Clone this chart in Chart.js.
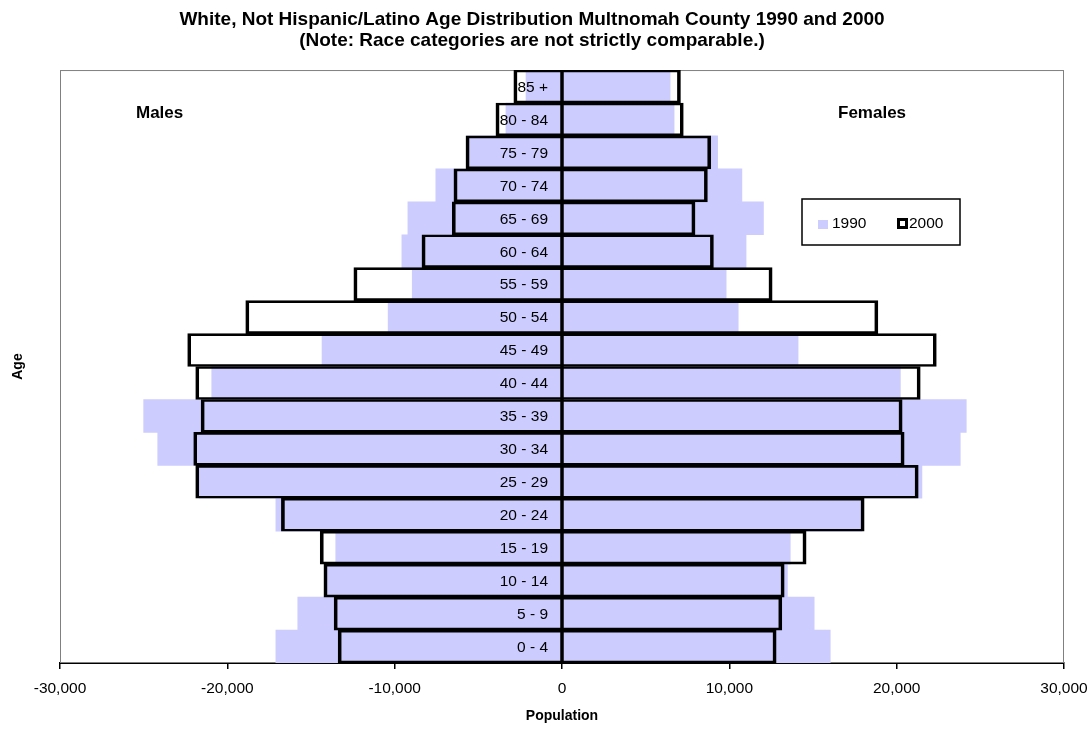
<!DOCTYPE html>
<html><head><meta charset="utf-8">
<script src="https://cdn.jsdelivr.net/npm/chart.js@4.4.0/dist/chart.umd.min.js"></script>
<style>html,body{margin:0;padding:0;background:#fff}canvas{display:block}</style>
</head><body>
<canvas id="c" width="1092" height="730"></canvas>
<script>
// Age groups, youngest first (drawn bottom to top)
const ageGroups = ['0 - 4','5 - 9','10 - 14','15 - 19','20 - 24','25 - 29','30 - 34','35 - 39','40 - 44','45 - 49','50 - 54','55 - 59','60 - 64','65 - 69','70 - 74','75 - 79','80 - 84','85 +'];
const males1990   = [17100,15790,14100,13520,17100,21690,24160,25000,20930,14340,10390,8950,9570,9210,7540,5700,3350,2150];
const females1990 = [16030,15070,13470,13640,17930,21510,23800,24160,20220,14110,10530,9810,11000,12040,10750,9300,6700,6460];
const males2000   = [13380,13620,14230,14450,16770,21890,22010,21570,21890,22370,18900,12440,8370,6560,6460,5740,3950,2880];
const females2000 = [12800,13140,13280,14590,18060,21290,20450,20330,21410,22370,18880,12560,9050,7950,8690,8890,7250,7080];
const tickValues = [-30000,-20000,-10000,0,10000,20000,30000];
const titleLines = ['White, Not Hispanic/Latino Age Distribution Multnomah County 1990 and 2000','(Note: Race categories are not strictly comparable.)'];
const seriesNames = ['1990','2000'];
const sideNames = ['Males','Females'];

const FONT = '"Liberation Sans", Arial, sans-serif';
Chart.defaults.font.family = FONT;
Chart.defaults.color = '#000';

const FILL = '#CCCCFF';

const deco = {
  id: 'deco',
  beforeDatasetsDraw(chart) {
    const {ctx, chartArea: a} = chart;
    ctx.save();
    ctx.strokeStyle = '#808080';
    ctx.lineWidth = 1;
    ctx.strokeRect(a.left + 0.5, a.top + 0.5, a.right - a.left - 1, a.bottom - a.top - 1);
    ctx.restore();
  },
  afterDatasetsDraw(chart) {
    const {ctx, chartArea: a, scales} = chart;
    const x0 = scales.x.getPixelForValue(0);
    ctx.save();
    // zero axis
    ctx.strokeStyle = '#000';
    ctx.lineWidth = 3.5;
    ctx.beginPath();
    ctx.moveTo(x0, a.top);
    ctx.lineTo(x0, a.bottom);
    ctx.stroke();
    // category labels beside zero axis
    ctx.fillStyle = '#000';
    ctx.font = '15.5px ' + FONT;
    ctx.textAlign = 'right';
    ctx.textBaseline = 'middle';
    ageGroups.forEach((lab, i) => {
      ctx.fillText(lab, x0 - 14, scales.y.getPixelForValue(i) + 1);
    });
    // side labels
    ctx.font = 'bold 17px ' + FONT;
    ctx.textAlign = 'left';
    ctx.fillText(sideNames[0], 136, 113);
    ctx.fillText(sideNames[1], 838, 113);
    // legend
    ctx.fillStyle = '#fff';
    ctx.fillRect(802, 199, 158, 46);
    ctx.strokeStyle = '#000';
    ctx.lineWidth = 1.5;
    ctx.strokeRect(802, 199, 158, 46);
    ctx.fillStyle = chart.data.datasets[2].backgroundColor;
    ctx.fillRect(818, 220, 10, 9);
    ctx.lineWidth = 3;
    ctx.strokeStyle = '#000';
    ctx.strokeRect(898.5, 219.5, 8, 8);
    ctx.fillStyle = '#000';
    ctx.font = '15.5px ' + FONT;
    ctx.fillText(seriesNames[0], 832, 224);
    ctx.fillText(seriesNames[1], 909, 224);
    ctx.restore();
  }
};

const common = {grouped: false, barPercentage: 1, categoryPercentage: 1};
const outline = {backgroundColor: 'rgba(0,0,0,0)', borderColor: '#000', borderWidth: {top: 2, bottom: 2, left: 3, right: 3}, borderSkipped: 'start', order: 0};
const filled = {backgroundColor: FILL, borderWidth: 0, order: 1};

new Chart(document.getElementById('c'), {
  type: 'bar',
  data: {
    labels: ageGroups,
    datasets: [
      Object.assign({label: seriesNames[1] + ' ' + sideNames[0], data: males2000.map(v => -v)}, common, outline),
      Object.assign({label: seriesNames[1] + ' ' + sideNames[1], data: females2000}, common, outline),
      Object.assign({label: seriesNames[0] + ' ' + sideNames[0], data: males1990.map(v => -v)}, common, filled),
      Object.assign({label: seriesNames[0] + ' ' + sideNames[1], data: females1990}, common, filled)
    ]
  },
  options: {
    indexAxis: 'y',
    responsive: false,
    animation: false,
    layout: {padding: {left: 0, right: 28, top: 0, bottom: 0}},
    plugins: {
      legend: {display: false},
      tooltip: {enabled: false},
      title: {
        display: true,
        text: titleLines,
        color: '#000',
        font: {size: 19, weight: 'bold', lineHeight: 1.08},
        padding: {top: 10, bottom: 19}
      }
    },
    scales: {
      x: {
        type: 'linear',
        min: tickValues[0],
        max: tickValues[tickValues.length - 1],
        afterBuildTicks(s) { s.ticks = tickValues.map(v => ({value: v})); },
        ticks: {
          font: {size: 15.5},
          color: '#000',
          padding: 10,
          maxRotation: 0,
          callback: v => v.toLocaleString('en-US')
        },
        grid: {drawOnChartArea: false, drawTicks: true, tickLength: 6, color: '#000', lineWidth: 1.5},
        border: {display: true, color: '#000', width: 2},
        title: {display: true, text: 'Population', color: '#000', font: {size: 14, weight: 'bold'}, padding: {top: 0, bottom: 5.6}},
        afterFit(s) { s.height = 67; s.paddingLeft = 0; s.paddingRight = 0; }
      },
      y: {
        reverse: true,
        ticks: {display: false},
        grid: {display: false},
        border: {display: false},
        title: {display: true, text: 'Age', color: '#000', font: {size: 14, weight: 'bold'}, padding: {top: 9.6, bottom: 0}},
        afterFit(s) { s.width = 60; }
      }
    }
  },
  plugins: [deco]
});
</script>
</body></html>
